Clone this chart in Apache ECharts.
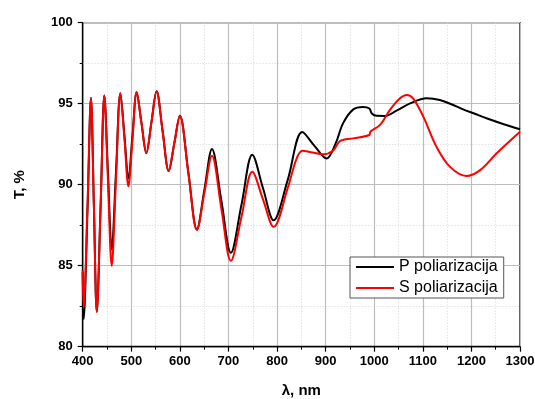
<!DOCTYPE html>
<html>
<head>
<meta charset="utf-8">
<script src="https://cdn.jsdelivr.net/npm/echarts@6/dist/echarts.min.js"></script>
<style>
  html, body { margin: 0; padding: 0; background: #fff; }
  #chart { width: 535px; height: 399px; }
</style>
</head>
<body>
<div id="chart"></div>
<script>
// Transmission spectra for P and S polarization (wavelength in nm, T in %)
var wavelengthP = [400, 402, 410, 417, 423, 429, 437, 444.5, 452, 459.7, 468.5, 477.5, 486, 494, 502.5, 511, 521, 531, 541.5, 552, 564.5, 577, 588.5, 600, 617.5, 635, 650.5, 666, 685.5, 705, 727, 749, 771, 793, 822, 852, 877, 902, 920, 936, 957, 977, 990, 995, 1005, 1022, 1046, 1074, 1108, 1135, 1160, 1183, 1207, 1231, 1265, 1300];
var transP = [84.6, 81.7, 88.5, 95.35, 88.75, 82.15, 88.8, 95.5, 90.75, 86.0, 90.8, 95.65, 93.0, 90.4, 93.05, 95.7, 93.8, 91.95, 93.86, 95.77, 93.3, 90.85, 92.55, 94.25, 90.75, 87.25, 89.7, 92.2, 89.0, 85.8, 88.8, 91.85, 89.8, 87.8, 90.3, 93.25, 92.4, 91.62, 92.5, 93.8, 94.65, 94.8, 94.7, 94.4, 94.25, 94.24, 94.57, 95.02, 95.33, 95.23, 94.95, 94.65, 94.38, 94.1, 93.75, 93.42];

var wavelengthS = [400, 402, 410, 417, 423, 429, 437, 444.5, 452, 459.7, 468.5, 477.5, 486, 494, 502.5, 511, 521, 531, 541.5, 552, 564.5, 577, 588.5, 600, 617.5, 635, 650.5, 666, 685.5, 705, 727, 749, 771, 793, 822, 840, 852, 870, 895, 915, 930, 957, 990, 992, 1012, 1032, 1053, 1067, 1080, 1101, 1128, 1156, 1190, 1218, 1252, 1300];
var transS = [84.7, 82.4, 88.9, 95.35, 88.75, 82.15, 88.8, 95.5, 90.25, 85.0, 90.3, 95.65, 92.8, 89.9, 92.8, 95.7, 93.8, 91.95, 93.86, 95.77, 93.3, 90.85, 92.55, 94.25, 90.7, 87.2, 89.5, 91.78, 88.5, 85.3, 88.05, 90.8, 89.1, 87.4, 89.8, 91.6, 92.1, 92.0, 91.88, 92.1, 92.7, 92.86, 93.07, 93.27, 93.69, 94.6, 95.33, 95.54, 95.33, 94.2, 92.35, 91.1, 90.54, 90.9, 91.94, 93.27];

var seriesNames = ['P poliarizacija', 'S poliarizacija'];
var xName = 'λ, nm';
var yName = 'T, %';

function pairs(xs, ys) {
  return xs.map(function (x, i) { return [x, ys[i]]; });
}

var font = 'Liberation Sans, Arial, sans-serif';

var axisCommon = {
  axisLine: { show: true, onZero: false, lineStyle: { color: '#000', width: 1.3 } },
  axisTick: { show: true, inside: false, length: 5, lineStyle: { color: '#000', width: 1.2 } },
  minorTick: { show: true, splitNumber: 2, length: 3, lineStyle: { color: '#000', width: 1 } },
  splitLine: { show: true, lineStyle: { color: '#bdbdbd', width: 1.2 } },
  minorSplitLine: { show: true, lineStyle: { color: '#d6d6d6', width: 1, type: [1, 2] } },
  nameTextStyle: { fontFamily: font, fontWeight: 'bold', fontSize: 15, color: '#000' }
};

var chart = echarts.init(document.getElementById('chart'), null, { renderer: 'canvas' });
chart.setOption({
  animation: false,
  backgroundColor: '#fff',
  grid: {
    left: 82.7, right: 15, top: 22.7, bottom: 52.3,
    containLabel: false, outerBoundsMode: 'none',
    show: true, borderColor: '#000', borderWidth: 1.3
  },
  legend: {
    orient: 'vertical',
    left: 350, top: 257,
    data: seriesNames,
    icon: 'rect',
    itemWidth: 38, itemHeight: 2, itemGap: 5,
    padding: [2, 6, 2, 6],
    borderColor: '#555', borderWidth: 1,
    backgroundColor: '#fff',
    textStyle: { fontFamily: font, fontSize: 16, color: '#000' }
  },
  xAxis: Object.assign({}, axisCommon, {
    type: 'value', min: 400, max: 1300, interval: 100,
    name: xName, nameLocation: 'middle', nameGap: 37,
    axisLabel: {
      fontFamily: font, fontWeight: 'bold', fontSize: 13, color: '#000', margin: 8,
      formatter: function (v) { return String(v); }
    }
  }),
  yAxis: Object.assign({}, axisCommon, {
    type: 'value', min: 80, max: 100, interval: 5,
    name: yName, nameLocation: 'middle', nameGap: 55,
    axisLabel: {
      fontFamily: font, fontWeight: 'bold', fontSize: 13, color: '#000', margin: 10,
      formatter: function (v) { return String(v); }
    }
  }),
  series: [
    {
      name: seriesNames[0], type: 'line', data: pairs(wavelengthP, transP),
      showSymbol: false, smooth: 0.35,
      lineStyle: { color: '#000', width: 2 }, itemStyle: { color: '#000' }
    },
    {
      name: seriesNames[1], type: 'line', data: pairs(wavelengthS, transS),
      showSymbol: false, smooth: 0.35,
      lineStyle: { color: '#ff0000', width: 2 }, itemStyle: { color: '#ff0000' }
    }
  ]
});
</script>
</body>
</html>
